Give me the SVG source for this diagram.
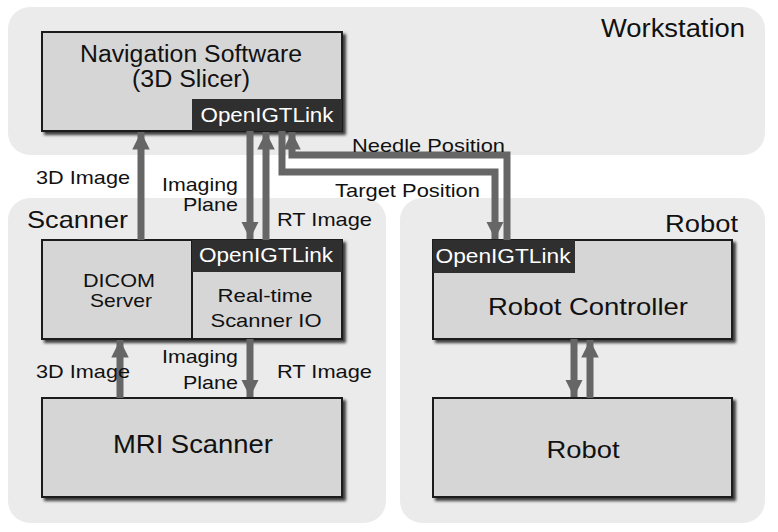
<svg xmlns="http://www.w3.org/2000/svg" width="778" height="532" viewBox="0 0 778 532">
<defs>
<filter id="sh" x="-5%" y="-5%" width="115%" height="120%">
<feDropShadow dx="3" dy="3" stdDeviation="1.5" flood-color="#000" flood-opacity="0.75"/>
</filter>
<marker id="ah" viewBox="0 0 10 10" refX="10" refY="5" markerWidth="2.5" markerHeight="2.5" markerUnits="strokeWidth" orient="auto">
<path d="M0,0 L10,5 L0,10 Z" fill="#666"/>
</marker>
</defs>
<style>
text{font-family:"Liberation Sans",Arial,sans-serif;fill:#111}
.panel{fill:#ebebeb}
.box{fill:#d6d6d6;stroke:#1a1a1a;stroke-width:2}
.dark{fill:#2f2f2f}
.igt{fill:#fff;font-size:20px;text-anchor:middle}
.lbl{font-size:19px}
.c{text-anchor:middle}
.e{text-anchor:end}
.arr{stroke:#666;stroke-width:7;fill:none;marker-end:url(#ah)}
</style>
<rect width="778" height="532" fill="#fff"/>
<g id="panels">
<rect class="panel" x="8" y="7" width="757" height="148" rx="22"/>
<rect class="panel" x="8" y="198" width="378" height="325" rx="22"/>
<rect class="panel" x="400" y="198" width="365" height="325" rx="22"/>
<text x="745" y="37" font-size="26" class="e" fill="#333" textLength="144" lengthAdjust="spacingAndGlyphs">Workstation</text>
<text x="27" y="228" font-size="24" textLength="101" lengthAdjust="spacingAndGlyphs">Scanner</text>
<text x="738" y="232" font-size="24" class="e" textLength="73" lengthAdjust="spacingAndGlyphs">Robot</text>
</g>
<g id="nav">
<rect class="box" x="42" y="32" width="300" height="99" filter="url(#sh)"/>
<rect class="dark" x="192" y="99" width="150" height="32"/>
<text class="c" x="191" y="62" font-size="23" textLength="222" lengthAdjust="spacingAndGlyphs">Navigation Software</text>
<text class="c" x="191" y="87" font-size="23" textLength="118" lengthAdjust="spacingAndGlyphs">(3D Slicer)</text>
<text class="igt" x="267" y="122" textLength="133" lengthAdjust="spacingAndGlyphs">OpenIGTLink</text>
</g>
<g id="scannerio">
<rect class="box" x="42" y="240" width="300" height="99" filter="url(#sh)"/>
<line x1="192" y1="240" x2="192" y2="339" stroke="#1a1a1a" stroke-width="2"/>
<rect class="dark" x="192" y="240" width="150" height="32"/>
<text class="igt" x="266" y="262" textLength="134" lengthAdjust="spacingAndGlyphs">OpenIGTLink</text>
<text class="lbl c" x="119" y="287" textLength="72" lengthAdjust="spacingAndGlyphs">DICOM</text>
<text class="lbl c" x="121" y="307" textLength="62" lengthAdjust="spacingAndGlyphs">Server</text>
<text class="lbl c" x="265" y="302" textLength="95" lengthAdjust="spacingAndGlyphs">Real-time</text>
<text class="lbl c" x="266" y="327" textLength="111" lengthAdjust="spacingAndGlyphs">Scanner IO</text>
</g>
<g id="mri">
<rect class="box" x="42" y="398" width="300" height="99" filter="url(#sh)"/>
<text class="c" x="193" y="453" font-size="26" textLength="160" lengthAdjust="spacingAndGlyphs">MRI Scanner</text>
</g>
<g id="controller">
<rect class="box" x="433" y="240" width="299" height="99" filter="url(#sh)"/>
<rect class="dark" x="433" y="240" width="142" height="33"/>
<text class="igt" x="503" y="263" textLength="135" lengthAdjust="spacingAndGlyphs">OpenIGTLink</text>
<text class="c" x="588" y="315" font-size="24" textLength="200" lengthAdjust="spacingAndGlyphs">Robot Controller</text>
</g>
<g id="robot">
<rect class="box" x="433" y="398" width="299" height="99" filter="url(#sh)"/>
<text class="c" x="583" y="458" font-size="24" textLength="73" lengthAdjust="spacingAndGlyphs">Robot</text>
</g>
<g id="connectors">
<path class="arr" d="M141,240 V132"/>
<path class="arr" d="M250,131 V239"/>
<path class="arr" d="M266,240 V132"/>
<path class="arr" d="M507,240 V155 H292 V132"/>
<path class="arr" d="M282,131 V172 H495 V239"/>
<path class="arr" d="M120,398 V340"/>
<path class="arr" d="M250,339 V397"/>
<path class="arr" d="M574,339 V397"/>
<path class="arr" d="M590,398 V340"/>
</g>
<g id="labels">
<text class="lbl" x="36" y="184" textLength="94" lengthAdjust="spacingAndGlyphs">3D Image</text>
<text class="lbl" x="162" y="191" textLength="76" lengthAdjust="spacingAndGlyphs">Imaging</text>
<text class="lbl" x="183" y="211" textLength="55" lengthAdjust="spacingAndGlyphs">Plane</text>
<text class="lbl" x="277" y="226" textLength="95" lengthAdjust="spacingAndGlyphs">RT Image</text>
<text class="lbl" x="352" y="152" textLength="153" lengthAdjust="spacingAndGlyphs">Needle Position</text>
<text class="lbl" x="335" y="197" textLength="145" lengthAdjust="spacingAndGlyphs">Target Position</text>
<text class="lbl" x="36" y="378" textLength="94" lengthAdjust="spacingAndGlyphs">3D Image</text>
<text class="lbl" x="162" y="363" textLength="76" lengthAdjust="spacingAndGlyphs">Imaging</text>
<text class="lbl" x="183" y="389" textLength="55" lengthAdjust="spacingAndGlyphs">Plane</text>
<text class="lbl" x="277" y="378" textLength="95" lengthAdjust="spacingAndGlyphs">RT Image</text>
</g>
</svg>
